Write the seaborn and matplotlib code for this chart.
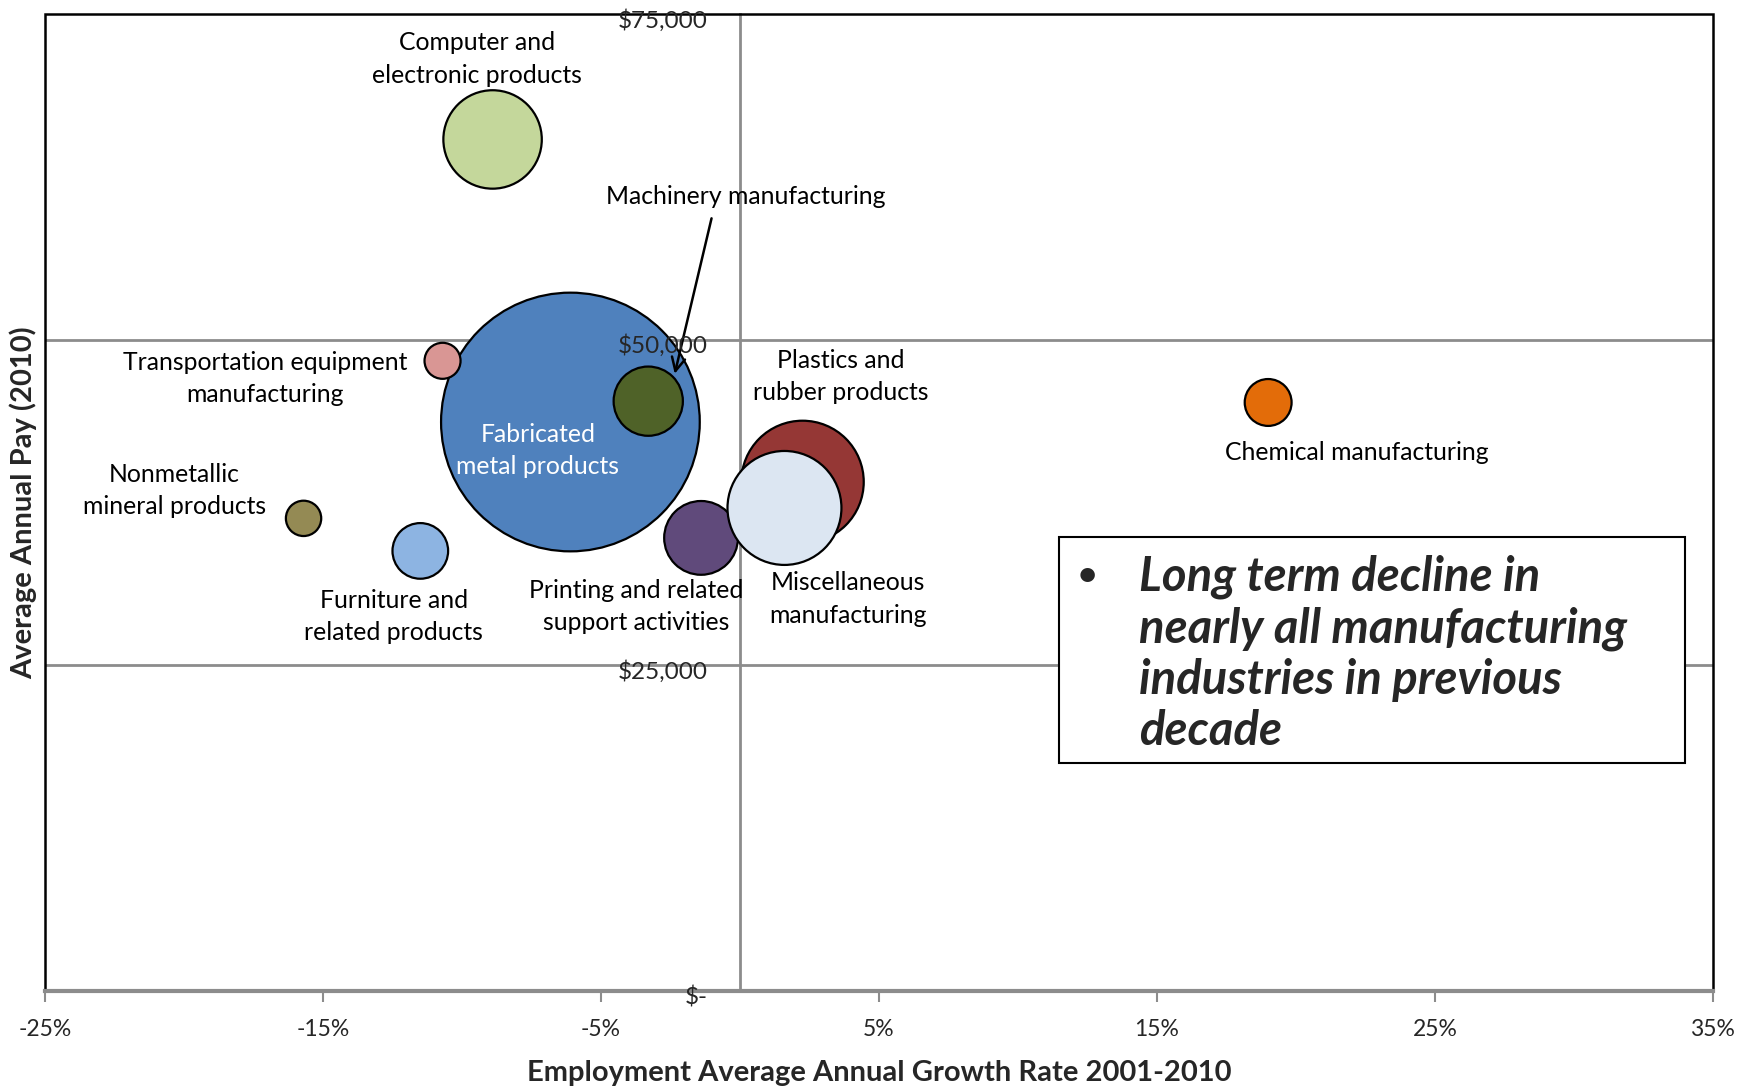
import numpy as np
import pandas as pd
import seaborn as sns
import matplotlib.pyplot as plt
from matplotlib.patches import Rectangle
from matplotlib.ticker import FuncFormatter
from matplotlib.transforms import ScaledTranslation

# bubble data, drawn in this order (later ones on top)
industries = ["Fabricated metal products", "Plastics and rubber products",
              "Computer and electronic products", "Transportation equipment manufacturing",
              "Nonmetallic mineral products", "Furniture and related products",
              "Machinery manufacturing", "Printing and related support activities",
              "Miscellaneous manufacturing", "Chemical manufacturing"]
growth = [-6.1, 2.25, -8.9, -10.7, -15.7, -11.5, -3.3, -1.4, 1.6, 19.0]  # % per year
pay = [43700, 39100, 65400, 48400, 36300, 33800, 45300, 34800, 37100, 45200]
employment = [13400, 3000, 1940, 260, 250, 620, 960, 1090, 2600, 440]
colors = ["#4F81BD", "#953735", "#C4D79B", "#D99694", "#948A54",
          "#8DB4E2", "#4F6228", "#604A7B", "#DCE6F2", "#E36C09"]

x_ticks = [-25, -15, -5, 5, 15, 25, 35]
y_ticks = [0, 25000, 50000, 75000]

# label text and where it goes (data coords)
label_text = {
    "Computer and electronic products": "Computer and\nelectronic products",
    "Machinery manufacturing": "Machinery manufacturing",
    "Transportation equipment manufacturing": "Transportation equipment\nmanufacturing",
    "Nonmetallic mineral products": "Nonmetallic\nmineral products",
    "Furniture and related products": "Furniture and\nrelated products",
    "Printing and related support activities": "Printing and related\nsupport activities",
    "Plastics and rubber products": "Plastics and\nrubber products",
    "Miscellaneous manufacturing": "Miscellaneous\nmanufacturing",
    "Chemical manufacturing": "Chemical manufacturing",
    "Fabricated metal products": "Fabricated\nmetal products",
}
label_pos = {
    "Computer and electronic products": (-9.45, 71570),
    "Machinery manufacturing": (0.2, 61010),
    "Transportation equipment manufacturing": (-17.08, 47030),
    "Nonmetallic mineral products": (-20.34, 38440),
    "Furniture and related products": (-12.46, 28750),
    "Printing and related support activities": (-3.74, 29520),
    "Plastics and rubber products": (3.62, 47200),
    "Miscellaneous manufacturing": (3.9, 30120),
    "Chemical manufacturing": (22.19, 41360),
    "Fabricated metal products": (-7.27, 41530),
}

note = "Long term decline in\nnearly all manufacturing\nindustries in previous\ndecade"


def main():
    sns.set_theme(style="white")
    plt.rcParams['font.family'] = ['Lato', 'DejaVu Sans']

    df = pd.DataFrame({"industry": industries, "growth": growth, "pay": pay, "employment": employment})
    palette = dict(zip(industries, colors))

    fig = plt.figure(figsize=(17.52, 10.87), dpi=100)
    ax = fig.add_axes([0.0257, 0.0883, 0.952, 0.8984])

    s_per_unit = 2.589  # points^2 per employment unit
    emax = max(employment)
    sns.scatterplot(data=df, x="growth", y="pay", hue="industry", palette=palette,
                    size="employment", sizes=(0, s_per_unit * emax), size_norm=(0, emax),
                    edgecolor="black", linewidth=1.6, alpha=1, legend=False, ax=ax, zorder=2)

    ax.set_xlim(-25, 35)
    ax.set_ylim(0, 75000)
    ax.grid(False)
    # gridlines behind bubbles, tick labels on top
    for yv in y_ticks[1:-1]:
        ax.axhline(yv, color="#8c8c8c", lw=2, zorder=0.5)

    # frame: black box, grey axes through zero
    ax.spines['top'].set_visible(False)
    ax.spines['right'].set_visible(False)
    ax.spines['left'].set_position(('data', 0))
    ax.spines['left'].set_color("#8c8c8c")
    ax.spines['left'].set_linewidth(2)
    ax.spines['left'].set_zorder(0.6)
    ax.spines['bottom'].set_color("#8c8c8c")
    ax.spines['bottom'].set_linewidth(3)
    ax.spines['bottom'].set_zorder(3.5)
    ax.add_patch(Rectangle((0, 0), 1, 1, transform=ax.transAxes, fill=False,
                           ec="black", lw=1.8, clip_on=False, zorder=3))
    ax.yaxis.set_zorder(4)

    ax.set_xticks(x_ticks)
    ax.set_xticklabels([f"{t}%" for t in x_ticks])
    ax.set_yticks(y_ticks)
    ax.yaxis.set_major_formatter(FuncFormatter(lambda v, p: "$-" if v == 0 else f"${v:,.0f}"))
    ax.tick_params(axis="x", bottom=True, direction="out", length=8, width=1.5,
                   color="#8c8c8c", pad=12, labelsize=16.5)
    ax.tick_params(axis="y", left=False, pad=17, labelsize=17.5)
    # nudge y labels down a little, like the original
    nudge = ScaledTranslation(0, -0.04, fig.dpi_scale_trans)
    for lab in ax.get_yticklabels():
        lab.set_transform(lab.get_transform() + nudge)

    ax.set_xlabel("Employment Average Annual Growth Rate 2001-2010", fontsize=21, fontweight="bold")
    ax.set_ylabel("Average Annual Pay (2010)", fontsize=21, fontweight="bold")
    ax.xaxis.set_label_coords(0.5, -0.071)
    ax.yaxis.set_label_coords(-0.005, 0.5)

    for name in industries:
        x, y = label_pos[name]
        c = "white" if name == "Fabricated metal products" else "black"
        ax.text(x, y, label_text[name], ha="center", va="center", fontsize=17.8,
                color=c, linespacing=1.5, zorder=4)

    # arrow to machinery bubble
    ax.annotate("", xy=(-2.37, 47200), xytext=(-1.0, 59550),
                arrowprops=dict(arrowstyle="->", color="black", lw=1.8, mutation_scale=24), zorder=4)

    # note box
    ax.add_patch(Rectangle((0.608, 0.233), 0.375, 0.232, transform=ax.transAxes,
                           fc="white", ec="black", lw=1.5, zorder=5))
    ax.text(0.619, 0.425, "\u2022", transform=ax.transAxes, fontsize=24, fontweight="bold",
            ha="left", va="center", zorder=6)
    ax.text(0.656, 0.447, note, transform=ax.transAxes, fontsize=34, fontweight="bold",
            fontstyle="italic", ha="left", va="top", linespacing=1.2, zorder=6)

    fig.savefig("out.png", dpi=100)


if __name__ == "__main__":
    main()
